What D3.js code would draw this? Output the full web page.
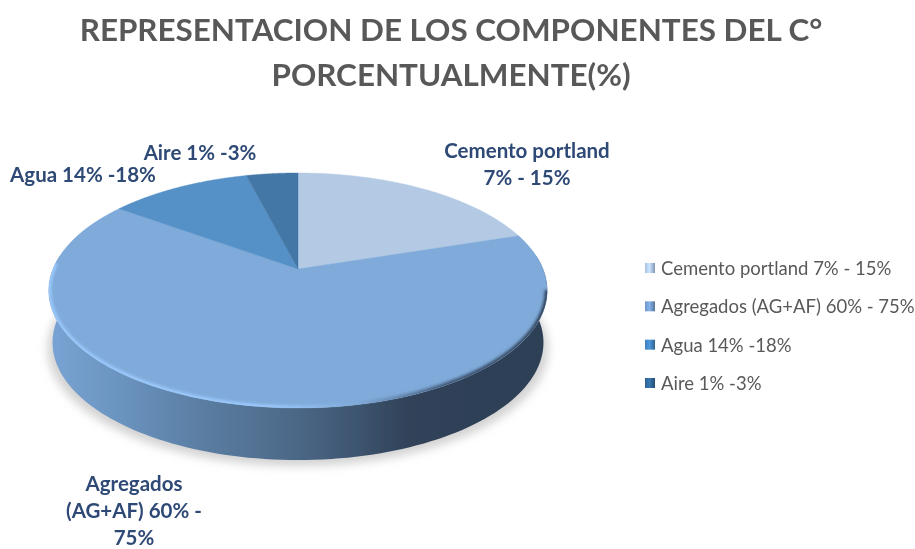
<!DOCTYPE html>
<html><head><meta charset="utf-8">
<script src="https://cdn.jsdelivr.net/npm/d3@7"></script>
<style>html,body{margin:0;padding:0;background:#fff}svg{display:block}text{font-family:Lato,"Open Sans",sans-serif}</style>
</head><body><svg id="c" width="915" height="549"></svg>
<script>
const categories=["Cemento portland 7% - 15%","Agregados (AG+AF) 60% - 75%","Agua 14% -18%","Aire 1% -3%"];
const values=[20,65,11,4];
const sliceColors=["#b3c9e4","#7faad9","#5490c6","#4377a6"];
const legendColors=["#a9c0de","#6f96c6","#3f7fb8","#2f6394"];
const titleLines=["REPRESENTACION DE LOS COMPONENTES DEL C°","PORCENTUALMENTE(%)"];
const labelLines=[["Cemento portland","7% - 15%"],["Agregados","(AG+AF) 60% -","75%"],["Agua 14% -18%"],["Aire 1% -3%"]];
const labelAnchors=[[527,158],[134,491],[83,182],[200,160]];

const svg=d3.select("#c");
const defs=svg.append("defs");
const cx=298,cy=269,a=245,b=113.6,p=0.183,depth=52;
const proj=t=>{const u=Math.sin(t),v=-Math.cos(t),w=1-p*v;return [cx+a*u/w,cy+b*v/w];};
const pie=d3.pie().sort(null)(values);
const line=d3.line();
const arcPts=(s,e)=>d3.range(0,121).map(i=>proj(s+(e-s)*i/120));

const wg=defs.append("linearGradient").attr("id","wall").attr("gradientUnits","userSpaceOnUse").attr("x1",49).attr("x2",548).attr("y1",0).attr("y2",0);
[[0,"#79a3d3"],[0.14,"#6b94c0"],[0.3,"#5b7ea3"],[0.48,"#4d6a89"],[0.62,"#3d546f"],[0.72,"#304258"],[1,"#2e3f57"]].forEach(d=>wg.append("stop").attr("offset",d[0]).attr("stop-color",d[1]));
defs.append("filter").attr("id","sh").attr("filterUnits","userSpaceOnUse").attr("x",0).attr("y",200).attr("width",620).attr("height",320).append("feGaussianBlur").attr("stdDeviation",5);
defs.append("filter").attr("id","rim").attr("filterUnits","userSpaceOnUse").attr("x",0).attr("y",100).attr("width",600).attr("height",400).append("feGaussianBlur").attr("stdDeviation",1.5);
defs.append("filter").attr("id","soft").attr("filterUnits","userSpaceOnUse").attr("x",0).attr("y",0).attr("width",915).attr("height",549).append("feGaussianBlur").attr("stdDeviation",0.4);
const rg=defs.append("linearGradient").attr("id","rimg").attr("gradientUnits","userSpaceOnUse").attr("x1",49).attr("x2",548).attr("y1",0).attr("y2",0);
[[0,"#9ccbff"],[0.45,"#9ccbff"],[0.62,"#7fa9d8"],[0.8,"#3c516d"],[1,"#2e3f57"]].forEach(d=>rg.append("stop").attr("offset",d[0]).attr("stop-color",d[1]));
defs.append("clipPath").attr("id","face").append("path").attr("d",line(arcPts(0,2*Math.PI))+"Z");

const front=arcPts(Math.PI/2-0.12,3*Math.PI/2+0.12);
const lower=front.map(q=>[cx+(q[0]-cx)*0.985,q[1]+depth]);
const wallPts=front.concat(lower.slice().reverse());
const root=svg.append("g").attr("filter","url(#soft)");

root.append("path").attr("d",line(lower.map(q=>[cx+(q[0]-cx)*1.02,q[1]+6]))+"Z").attr("fill","#d2d2d2").attr("filter","url(#sh)");
root.append("path").attr("d",line(wallPts)+"Z").attr("fill","url(#wall)");

root.selectAll("path.slice").data(pie).join("path").attr("class","slice")
 .attr("d",d=>line([[cx,cy]].concat(arcPts(d.startAngle,d.endAngle)))+"Z")
 .attr("fill",(d,i)=>sliceColors[i]).attr("stroke",(d,i)=>sliceColors[i]).attr("stroke-width",0.4);
root.append("g").attr("clip-path","url(#face)").append("path").attr("d",line(arcPts(Math.PI/2+0.18,3*Math.PI/2+0.05))).attr("fill","none").attr("stroke","url(#rimg)").attr("stroke-width",5).attr("filter","url(#rim)");

const tg=svg.append("g").attr("filter","url(#soft)");
tg.append("g").selectAll("text").data(titleLines).join("text").attr("x",451).attr("y",(d,i)=>41+i*45).attr("text-anchor","middle")
 .attr("font-size",31.4).attr("font-weight",700).attr("fill","#595959").text(d=>d);

labelLines.forEach((ls,i)=>{
 tg.append("g").selectAll("text").data(ls).join("text").attr("x",labelAnchors[i][0]).attr("y",(d,j)=>labelAnchors[i][1]+j*27).attr("text-anchor","middle")
  .attr("font-size",20.5).attr("font-weight",700).attr("fill","#2f4a76").text(d=>d);
});
legendColors.forEach((c,i)=>{
 const g=defs.append("linearGradient").attr("id","key"+i);
 [[0,c],[0.45,d3.color(c).brighter(0.5)],[0.7,c],[1,d3.color(c).darker(0.7)]].forEach(s=>g.append("stop").attr("offset",s[0]).attr("stop-color",s[1]));
});
const ly=d3.scalePoint().domain(categories).range([268,383]);
const lg=tg.append("g").selectAll("g").data(categories).join("g").attr("transform",d=>`translate(645,${ly(d)})`);
lg.append("rect").attr("x",0).attr("y",-5).attr("width",10).attr("height",10).attr("fill",(d,i)=>`url(#key${i})`);
lg.append("text").attr("x",16).attr("y",7).attr("font-size",18.5).attr("fill","#595959").text(d=>d);
</script></body></html>
